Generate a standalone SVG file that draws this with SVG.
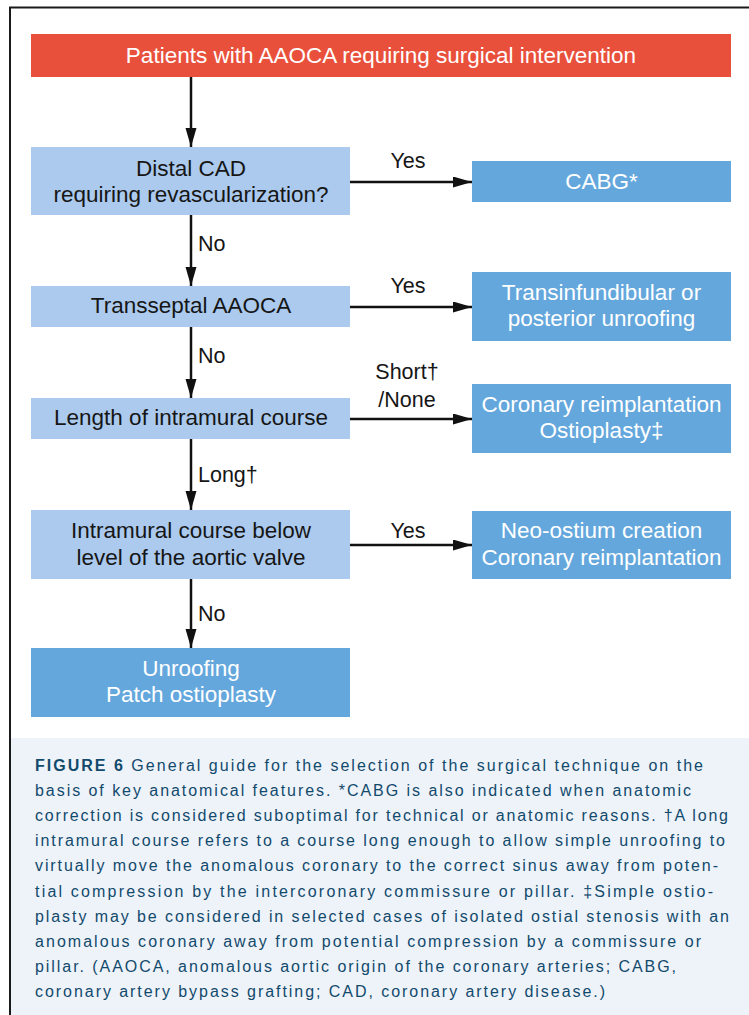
<svg xmlns="http://www.w3.org/2000/svg" width="749" height="1015" viewBox="0 0 749 1015">
<defs>
<marker id="ah" markerUnits="userSpaceOnUse" markerWidth="20" markerHeight="12" refX="19" refY="5.5" orient="auto">
<path d="M0,0 L19,5.5 L0,11 Z" fill="#111"/>
</marker>
<style>
.red{fill:#e9503c}
.lb{fill:#abcaee}
.db{fill:#64a7dc}
.t{font-family:"Liberation Sans",Arial,sans-serif;font-size:22.5px;text-anchor:middle}
.w{fill:#ffffff}
.k{fill:#161616}
.lbl{font-family:"Liberation Sans",Arial,sans-serif;font-size:21.5px;fill:#161616}
.c{stroke:#111;stroke-width:2.5;fill:none}
.cap{font-family:"Liberation Sans",Arial,sans-serif;font-size:16px;fill:#124a6c}
</style>
</defs>
<rect x="0" y="0" width="749" height="1015" fill="#ffffff"/>
<rect x="11" y="738" width="738" height="277" fill="#eef3fa"/>
<path d="M10,1015 L10,7.5 L749,7.5" fill="none" stroke="#1a1a1a" stroke-width="2"/>

<g id="connectors">
<line class="c" x1="191" y1="77" x2="191" y2="147" marker-end="url(#ah)"/>
<line class="c" x1="350" y1="182" x2="472" y2="182" marker-end="url(#ah)"/>
<line class="c" x1="191" y1="215" x2="191" y2="286" marker-end="url(#ah)"/>
<line class="c" x1="350" y1="307" x2="472" y2="307" marker-end="url(#ah)"/>
<line class="c" x1="191" y1="327" x2="191" y2="398" marker-end="url(#ah)"/>
<line class="c" x1="350" y1="419" x2="472" y2="419" marker-end="url(#ah)"/>
<line class="c" x1="191" y1="439" x2="191" y2="510" marker-end="url(#ah)"/>
<line class="c" x1="350" y1="545" x2="472" y2="545" marker-end="url(#ah)"/>
<line class="c" x1="191" y1="579" x2="191" y2="648" marker-end="url(#ah)"/>
<text class="lbl" x="408" y="168" text-anchor="middle">Yes</text>
<text class="lbl" x="198" y="251">No</text>
<text class="lbl" x="408" y="293" text-anchor="middle">Yes</text>
<text class="lbl" x="198" y="363">No</text>
<text class="lbl" x="407" y="379" text-anchor="middle">Short†</text>
<text class="lbl" x="407" y="407" text-anchor="middle">/None</text>
<text class="lbl" x="198" y="482">Long†</text>
<text class="lbl" x="408" y="538" text-anchor="middle">Yes</text>
<text class="lbl" x="198" y="621">No</text>
</g>

<g id="start">
<rect class="red" x="31" y="34" width="700" height="43"/>
<text class="t w" x="381" y="63">Patients with AAOCA requiring surgical intervention</text>
</g>
<g id="q1">
<rect class="lb" x="31" y="147" width="319" height="68"/>
<text class="t k" x="191" y="176">Distal CAD</text>
<text class="t k" x="191" y="202">requiring revascularization?</text>
</g>
<g id="cabg">
<rect class="db" x="472" y="161" width="259" height="41"/>
<text class="t w" x="601.5" y="189">CABG*</text>
</g>
<g id="q2">
<rect class="lb" x="31" y="286" width="319" height="41"/>
<text class="t k" x="191" y="313">Transseptal AAOCA</text>
</g>
<g id="trans">
<rect class="db" x="472" y="272" width="259" height="69"/>
<text class="t w" x="601.5" y="300">Transinfundibular or</text>
<text class="t w" x="601.5" y="326">posterior unroofing</text>
</g>
<g id="q3">
<rect class="lb" x="31" y="398" width="319" height="41"/>
<text class="t k" x="191" y="425">Length of intramural course</text>
</g>
<g id="reimpl">
<rect class="db" x="472" y="384" width="259" height="69"/>
<text class="t w" x="601.5" y="412">Coronary reimplantation</text>
<text class="t w" x="601.5" y="438">Ostioplasty‡</text>
</g>
<g id="q4">
<rect class="lb" x="31" y="510" width="319" height="69"/>
<text class="t k" x="191" y="538">Intramural course below</text>
<text class="t k" x="191" y="565">level of the aortic valve</text>
</g>
<g id="neo">
<rect class="db" x="472" y="511" width="259" height="68"/>
<text class="t w" x="601.5" y="538">Neo-ostium creation</text>
<text class="t w" x="601.5" y="565">Coronary reimplantation</text>
</g>
<g id="unroof">
<rect class="db" x="31" y="648" width="319" height="69"/>
<text class="t w" x="191" y="676">Unroofing</text>
<text class="t w" x="191" y="702">Patch ostioplasty</text>
</g>

<g id="caption">
<text class="cap" x="35" y="771" textLength="668" lengthAdjust="spacing"><tspan font-weight="bold">FIGURE 6</tspan> General guide for the selection of the surgical technique on the</text>
<text class="cap" x="35" y="796" textLength="656" lengthAdjust="spacing">basis of key anatomical features. *CABG is also indicated when anatomic</text>
<text class="cap" x="35" y="821" textLength="693" lengthAdjust="spacing">correction is considered suboptimal for technical or anatomic reasons. †A long</text>
<text class="cap" x="35" y="846" textLength="690" lengthAdjust="spacing">intramural course refers to a course long enough to allow simple unroofing to</text>
<text class="cap" x="35" y="871" textLength="683" lengthAdjust="spacing">virtually move the anomalous coronary to the correct sinus away from poten-</text>
<text class="cap" x="35" y="896.5" textLength="678" lengthAdjust="spacing">tial compression by the intercoronary commissure or pillar. ‡Simple ostio-</text>
<text class="cap" x="35" y="921.5" textLength="694" lengthAdjust="spacing">plasty may be considered in selected cases of isolated ostial stenosis with an</text>
<text class="cap" x="35" y="946.7" textLength="666" lengthAdjust="spacing">anomalous coronary away from potential compression by a commissure or</text>
<text class="cap" x="35" y="971.8" textLength="641" lengthAdjust="spacing">pillar. (AAOCA, anomalous aortic origin of the coronary arteries; CABG,</text>
<text class="cap" x="35" y="997" textLength="570" lengthAdjust="spacing">coronary artery bypass grafting; CAD, coronary artery disease.)</text>
</g>
</svg>
